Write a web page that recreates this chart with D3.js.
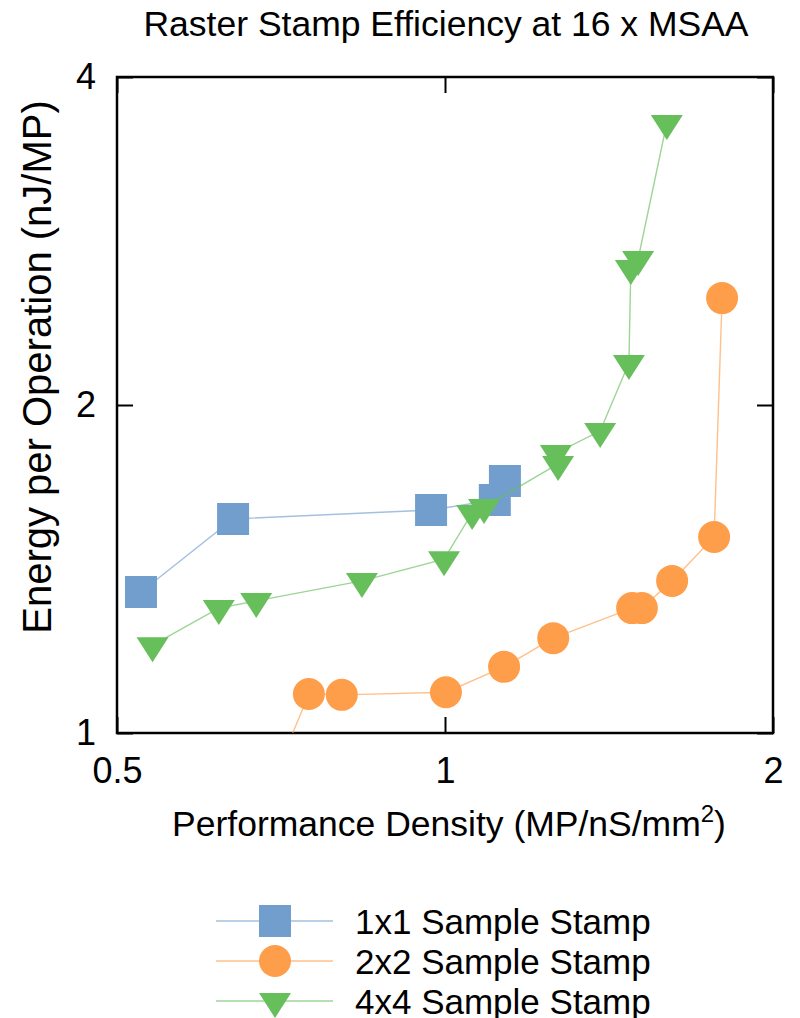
<!DOCTYPE html>
<html>
<head>
<meta charset="utf-8">
<style>
body { margin: 0; background: #fff; }
svg text { font-family: "Liberation Sans", Arial, Helvetica, sans-serif; fill: #000; }
</style>
</head>
<body>
<svg width="800" height="1018"></svg>
<script src="https://d3js.org/d3.v7.min.js"></script>
<script>
// series data
var seriesNames = ["1x1 Sample Stamp", "2x2 Sample Stamp", "4x4 Sample Stamp"];
var colors = ["#729ece", "#ff9e4a", "#67bf5c"];

var density1x1 = [0.526, 0.639, 0.971, 1.111, 1.135];
var energy1x1  = [1.347, 1.572, 1.602, 1.636, 1.703];

var density2x2 = [0.694, 0.750, 0.804, 1.002, 1.133, 1.257, 1.485, 1.516, 1.616, 1.766, 1.796];
var energy2x2  = [0.900, 1.086, 1.084, 1.090, 1.150, 1.222, 1.302, 1.302, 1.379, 1.513, 2.507];

var density4x4 = [0.539, 0.620, 0.671, 0.839, 0.998, 1.059, 1.086, 1.270, 1.264, 1.388, 1.475, 1.481, 1.504, 1.598];
var energy4x4  = [1.204, 1.302, 1.322, 1.379, 1.444, 1.592, 1.612, 1.766, 1.807, 1.893, 2.186, 2.672, 2.723, 3.630];

var xTicks = [0.5, 1, 2];
var yTicks = [1, 2, 4];

var svg = d3.select("svg"),
    margin = {top: 77, right: 27, bottom: 285, left: 117},
    width = +svg.attr("width") - margin.left - margin.right,
    height = +svg.attr("height") - margin.top - margin.bottom,
    g = svg.append("g").attr("transform", "translate(" + margin.left + "," + margin.top + ")");

var x = d3.scaleLog().base(2).domain([0.5, 2]).range([0, width]);
var y = d3.scaleLog().base(2).domain([1, 4]).range([height, 0]);

var series = [
  {name: seriesNames[0], shape: "square",   pts: density1x1.map(function(d, i) { return [d, energy1x1[i]]; })},
  {name: seriesNames[1], shape: "circle",   pts: density2x2.map(function(d, i) { return [d, energy2x2[i]]; })},
  {name: seriesNames[2], shape: "triangle", pts: density4x4.map(function(d, i) { return [d, energy4x4[i]]; })}
];

function markerPath(shape) {
  if (shape === "square") return "M-16,-16H16V16H-16Z";
  if (shape === "circle") return "M-16,0A16,16 0 1,0 16,0A16,16 0 1,0 -16,0Z";
  return "M-16,-8L16,-8L0,17Z"; // down triangle
}

svg.append("text")
    .attr("x", 446).attr("y", 36)
    .attr("text-anchor", "middle")
    .style("font-size", "35.5px")
    .text("Raster Stamp Efficiency at 16 x MSAA");

g.append("clipPath").attr("id", "plotclip")
  .append("rect").attr("width", width).attr("height", height);

// axes, ticks pointing inwards like gnuplot
g.append("g")
    .attr("transform", "translate(0," + height + ")")
    .call(d3.axisBottom(x).tickValues(xTicks).tickFormat(d3.format("")).tickSizeInner(-16).tickSizeOuter(0).tickPadding(24))
    .call(function(a) { a.select(".domain").remove(); a.selectAll("line").attr("stroke-width", 2); a.selectAll("text").style("font-size", "36px").attr("font-family", null); });

g.append("g")
    .call(d3.axisLeft(y).tickValues(yTicks).tickFormat(d3.format("")).tickSizeInner(-16).tickSizeOuter(0).tickPadding(21))
    .call(function(a) { a.select(".domain").remove(); a.selectAll("line").attr("stroke-width", 2); a.selectAll("text").style("font-size", "36px").attr("font-family", null); });

g.append("g")
    .call(d3.axisTop(x).tickValues(xTicks).tickFormat("").tickSizeInner(-16).tickSizeOuter(0))
    .call(function(a) { a.select(".domain").remove(); a.selectAll("line").attr("stroke-width", 2); });

g.append("g")
    .attr("transform", "translate(" + width + ",0)")
    .call(d3.axisRight(y).tickValues(yTicks).tickFormat("").tickSizeInner(-16).tickSizeOuter(0))
    .call(function(a) { a.select(".domain").remove(); a.selectAll("line").attr("stroke-width", 2); });

g.append("rect")
    .attr("width", width).attr("height", height)
    .attr("fill", "none").attr("stroke", "#000").attr("stroke-width", 2.5);

// axis titles
var xt = svg.append("text")
    .attr("x", 449).attr("y", 836)
    .attr("text-anchor", "middle")
    .style("font-size", "35.5px");
xt.append("tspan").text("Performance Density (MP/nS/mm");
xt.append("tspan").attr("dy", -14).style("font-size", "24px").text("2");
xt.append("tspan").attr("dy", 14).text(")");

svg.append("text")
    .attr("transform", "translate(51,367) rotate(-90)")
    .attr("text-anchor", "middle")
    .style("font-size", "40px")
    .text("Energy per Operation (nJ/MP)");

var line = d3.line()
    .x(function(d) { return x(d[0]); })
    .y(function(d) { return y(d[1]); });

var serie = g.selectAll(".serie")
  .data(series)
  .enter().append("g")
    .attr("class", "serie")
    .attr("clip-path", "url(#plotclip)");

serie.append("path")
    .attr("d", function(d) { return line(d.pts); })
    .attr("fill", "none")
    .attr("stroke", function(d, i) { return colors[i]; })
    .attr("stroke-opacity", 0.65)
    .attr("stroke-width", 1.4);

serie.each(function(s, i) {
  d3.select(this).selectAll(".pt")
    .data(s.pts)
    .enter().append("path")
      .attr("class", "pt")
      .attr("d", markerPath(s.shape))
      .attr("transform", function(d) { return "translate(" + x(d[0]) + "," + y(d[1]) + ")"; })
      .attr("fill", colors[i]);
});

// legend
var legend = svg.selectAll(".legend")
  .data(series)
  .enter().append("g")
    .attr("class", "legend")
    .attr("transform", function(d, i) { return "translate(0," + (921 + i * 40) + ")"; });

legend.append("line")
    .attr("x1", 216).attr("x2", 333)
    .attr("stroke", function(d, i) { return colors[i]; })
    .attr("stroke-opacity", 0.65)
    .attr("stroke-width", 1.4);

legend.append("path")
    .attr("transform", "translate(275,0)")
    .attr("d", function(d) { return markerPath(d.shape); })
    .attr("fill", function(d, i) { return colors[i]; });

legend.append("text")
    .attr("x", 355).attr("dy", "0.36em")
    .style("font-size", "35px")
    .text(function(d) { return d.name; });
</script>
</body>
</html>
